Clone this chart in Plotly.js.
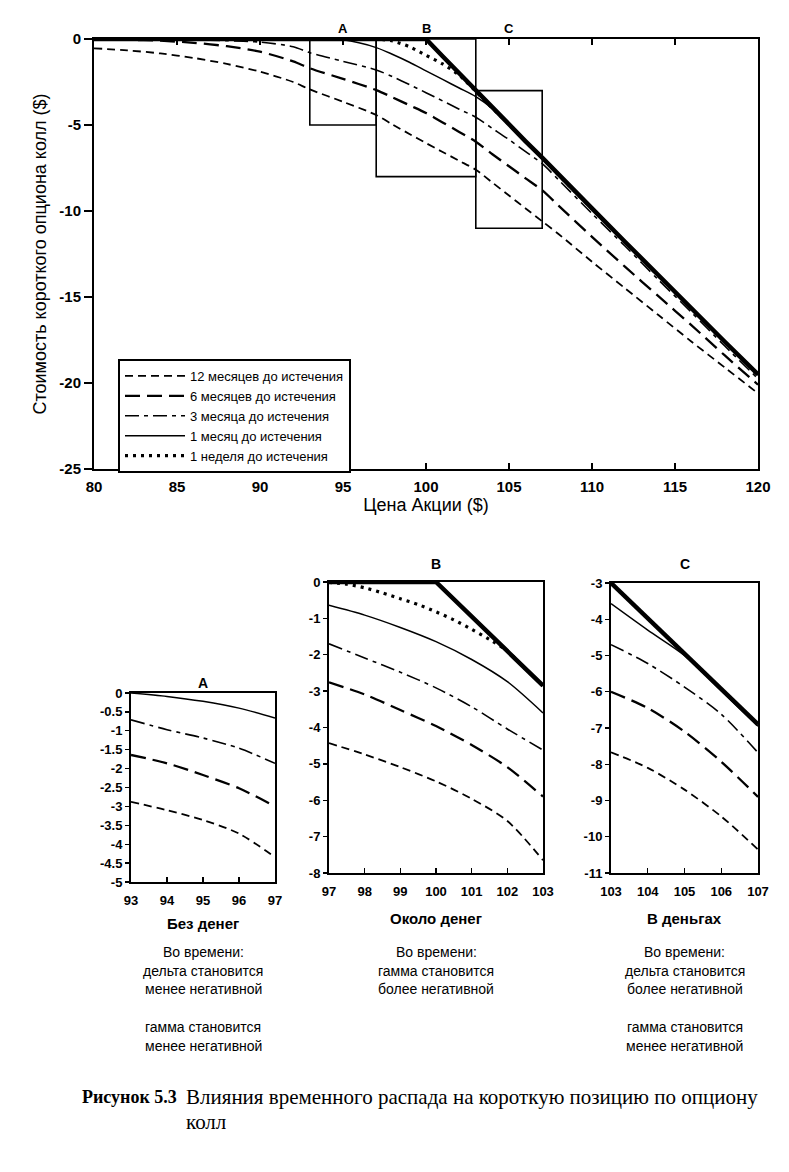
<!DOCTYPE html>
<html><head><meta charset="utf-8">
<script src="https://cdn.plot.ly/plotly-3.0.1.min.js"></script>
<style>html,body{margin:0;padding:0;background:#fff;}#chart{width:789px;height:1172px;}</style>
</head><body><div id="chart"></div>
<script>
// ---------------- DATA ----------------
const seriesNames = ['12 месяцев до истечения','6 месяцев до истечения','3 месяца до истечения','1 месяц до истечения','1 неделя до истечения'];

// main chart
const mainX       = [80,82,84,86,88,90,92,93,95,97,98,99,100,101,102,103,104,105,106,107,108,110,112,114,116,118,120];
const main12m     = [-0.54,-0.66,-0.84,-1.1,-1.45,-1.9,-2.5,-2.93,-3.65,-4.42,-4.98,-5.52,-6.05,-6.57,-7.08,-7.6,-8.35,-9.1,-9.85,-10.6,-11.35,-12.95,-14.5,-16.05,-17.6,-19.1,-20.6];
const main6m      = [-0.02,-0.05,-0.1,-0.22,-0.42,-0.74,-1.3,-1.7,-2.32,-2.97,-3.4,-3.85,-4.3,-4.85,-5.4,-5.97,-6.7,-7.4,-8.1,-8.8,-9.7,-11.5,-13.25,-14.95,-16.65,-18.4,-20.1];
const main3m      = [0,0,-0.02,-0.05,-0.1,-0.18,-0.45,-0.8,-1.3,-1.8,-2.2,-2.65,-3.12,-3.6,-4.08,-4.55,-5.2,-5.85,-6.55,-7.25,-8.2,-10.15,-12.05,-14.0,-15.9,-17.85,-19.75];
const main1m      = [0,0,0,0,0,0,0,0,-0.05,-0.5,-0.9,-1.35,-1.85,-2.35,-2.85,-3.35,-4.05,-4.97,-5.97,-6.93,-7.95,-9.9,-11.85,-13.8,-15.7,-17.65,-19.55];
const main1w      = [0,0,0,0,0,0,0,0,0,0,-0.12,-0.45,-0.95,-1.45,-2.1,-3.05,-4.02,-4.97,-5.97,-6.92,-7.92,-9.87,-11.82,-13.77,-15.67,-17.62,-19.52];
const mainIntr    = [0,0,0,0,0,0,0,0,0,0,0,0,0,-1.0,-2.0,-3.0,-4.0,-4.95,-5.95,-6.9,-7.9,-9.85,-11.8,-13.75,-15.65,-17.6,-19.5];

// panel A (out of the money)
const aX   = [93,94,95,96,97];
const a12m = [-2.88,-3.1,-3.36,-3.72,-4.34];
const a6m  = [-1.64,-1.86,-2.17,-2.52,-3.0];
const a3m  = [-0.71,-0.97,-1.19,-1.46,-1.86];
const a1m  = [0,-0.09,-0.22,-0.4,-0.66];

// panel B (at the money)
const bX     = [97,98,99,100,101,102,103];
const b12m   = [-4.43,-4.74,-5.09,-5.48,-5.96,-6.57,-7.65];
const b6m    = [-2.76,-3.09,-3.52,-3.96,-4.48,-5.09,-5.9];
const b3m    = [-1.7,-2.09,-2.48,-2.91,-3.43,-4.04,-4.62];
const b1m    = [-0.64,-0.91,-1.25,-1.64,-2.13,-2.74,-3.6];
const bWeekX = [97,97.5,98,98.5,99,99.5,100,100.5,101,101.5,102,102.5,103];
const b1w    = [-0.01,-0.06,-0.16,-0.3,-0.46,-0.62,-0.82,-1.04,-1.3,-1.58,-1.9,-2.38,-2.85];
const bIntrX = [97,100,103];
const bIntr  = [0,0,-2.85];

// panel C (in the money)
const cX    = [103,104,105,106,107];
const c12m  = [-7.67,-8.1,-8.7,-9.44,-10.35];
const c6m   = [-6.0,-6.45,-7.1,-7.93,-8.9];
const c3m   = [-4.7,-5.22,-5.87,-6.62,-7.68];
const c1m   = [-3.57,-4.3,-5.0,-5.97,-6.95];
const cIntr = [-3.0,-3.98,-4.95,-5.93,-6.9];

// zoom windows
const zoomX = [[93,97],[97,103],[103,107]];
const zoomY = [[-5,0],[-8,0],[-11,-3]];
const zoomLetters = ['A','B','C'];
const zoomLabels = ['Без денег','Около денег','В деньгах'];
const notes = [
  ['Во времени:','дельта становится','менее негативной','','гамма становится','менее негативной'],
  ['Во времени:','гамма становится','более негативной'],
  ['Во времени:','дельта становится','более негативной','','гамма становится','менее негативной']
];

// ticks
const mainTickX = [80,85,90,95,100,105,110,115,120];
const mainTickY = [0,-5,-10,-15,-20,-25];
const aTickX = [93,94,95,96,97];
const aTickY = [0,-0.5,-1,-1.5,-2,-2.5,-3,-3.5,-4,-4.5,-5];
const bTickX = [97,98,99,100,101,102,103];
const bTickY = [0,-1,-2,-3,-4,-5,-6,-7,-8];
const cTickX = [103,104,105,106,107];
const cTickY = [-3,-4,-5,-6,-7,-8,-9,-10,-11];

const xTitle = 'Цена Акции ($)';
const yTitle = 'Стоимость короткого опциона колл ($)';
const captionHead = 'Рисунок 5.3';
const captionLines = ['Влияния временного распада на короткую позицию по опциону','колл'];

// ---------------- STYLE / LAYOUT ----------------
const W = 789, H = 1172;
const px = v => v / W, py = v => 1 - v / H;
const FONT = 'Liberation Sans, Arial, Helvetica, sans-serif';
const SERIF = 'Liberation Serif, Times New Roman, serif';

const styles = {
  m12: {dash:'8px,5px', width:1.8},
  m6:  {dash:'15px,7px', width:2.3},
  m3:  {dash:'14px,5px,4px,5px', width:1.6},
  m1:  {dash:'solid', width:1.5},
  w1:  {dash:'3px,5px', width:3.2},
  intr:{dash:'solid', width:4.5}
};

const traces = [];
function add(x, y, key, ax, name, legend) {
  traces.push({
    type:'scatter', mode:'lines', x:x, y:y, name:name || key,
    xaxis:'x'+ax, yaxis:'y'+ax, showlegend:!!legend, hoverinfo:'skip',
    line:{color:'#000', width:styles[key].width, dash:styles[key].dash,
          shape: key==='intr' ? 'linear' : 'spline', smoothing:0.8}
  });
}
// main
add(mainX, main12m, 'm12', '', seriesNames[0], true);
add(mainX, main6m,  'm6',  '', seriesNames[1], true);
add(mainX, main3m,  'm3',  '', seriesNames[2], true);
add(mainX, main1m,  'm1',  '', seriesNames[3], true);
add(mainX, main1w,  'w1',  '', seriesNames[4], true);
add(mainX, mainIntr,'intr','');
// A
add(aX, a12m, 'm12', '2'); add(aX, a6m, 'm6', '2'); add(aX, a3m, 'm3', '2'); add(aX, a1m, 'm1', '2');
// B
add(bX, b12m, 'm12', '3'); add(bX, b6m, 'm6', '3'); add(bX, b3m, 'm3', '3'); add(bX, b1m, 'm1', '3');
add(bWeekX, b1w, 'w1', '3'); add(bIntrX, bIntr, 'intr', '3');
// C
add(cX, c12m, 'm12', '4'); add(cX, c6m, 'm6', '4'); add(cX, c3m, 'm3', '4'); add(cX, c1m, 'm1', '4');
add(cX, cIntr, 'intr', '4');

function xax(dom, range, ticks, size, anchor, mirror, standoff) {
  return {domain:dom, range:range, anchor:anchor, tickmode:'array', tickvals:ticks, ticktext:ticks.map(String),
    ticks:'inside', ticklen:5, tickwidth:1.3, tickcolor:'#000', showline:true, linecolor:'#000', linewidth:2,
    mirror:mirror, showgrid:false, zeroline:false, fixedrange:true, ticklabelstandoff:standoff,
    tickfont:{family:FONT, size:size, color:'#000', weight:'bold'}};
}
function yax(dom, range, ticks, size, anchor, len) {
  return {domain:dom, range:range, anchor:anchor, tickmode:'array', tickvals:ticks, ticktext:ticks.map(String),
    ticks:'outside', ticklen:len, tickwidth:1.3, tickcolor:'#000', showline:true, linecolor:'#000', linewidth:2,
    mirror:true, showgrid:false, zeroline:false, fixedrange:true,
    tickfont:{family:FONT, size:size, color:'#000', weight:'bold'}};
}

const dom = {
  main:{x:[px(94),px(758)], y:[py(469),py(39)]},
  A:{x:[px(131),px(275)], y:[py(882),py(693)]},
  B:{x:[px(329),px(543)], y:[py(873),py(582)]},
  C:{x:[px(611),px(758)], y:[py(873),py(583)]}
};
const panelKeys = ['A','B','C'];

const layout = {
  width:W, height:H, margin:{l:0,r:0,t:0,b:0}, paper_bgcolor:'#fff', plot_bgcolor:'#fff',
  showlegend:true,
  font:{family:FONT, color:'#000'},
  xaxis: Object.assign(xax(dom.main.x, [80,120], mainTickX, 15, 'y', 'ticks', 3),
           {title:{text:xTitle, font:{family:FONT, size:18, color:'#000'}, standoff:4}, ticklen:6}),
  yaxis: Object.assign(yax(dom.main.y, [-25,0], mainTickY, 15, 'x', 8),
           {title:{text:yTitle, font:{family:FONT, size:18, color:'#000'}, standoff:8}}),
  xaxis2: xax(dom.A.x, zoomX[0], aTickX, 13, 'y2', true, 5),
  yaxis2: yax(dom.A.y, zoomY[0], aTickY, 13, 'x2', 4),
  xaxis3: xax(dom.B.x, zoomX[1], bTickX, 13, 'y3', true, 5),
  yaxis3: yax(dom.B.y, zoomY[1], bTickY, 13, 'x3', 4),
  xaxis4: xax(dom.C.x, zoomX[2], cTickX, 13, 'y4', true, 5),
  yaxis4: yax(dom.C.y, zoomY[2], cTickY, 13, 'x4', 4),
  legend:{x:px(118), y:py(359), xanchor:'left', yanchor:'top', bgcolor:'#fff', bordercolor:'#000', borderwidth:2,
          font:{family:FONT, size:13, color:'#000'}, itemwidth:60, tracegroupgap:0, traceorder:'normal'},
  shapes:[], annotations:[]
};

// zoom boxes on main chart
zoomX.forEach((r,i) => {
  layout.shapes.push({type:'rect', xref:'x', yref:'y', x0:r[0], x1:r[1], y0:zoomY[i][0], y1:zoomY[i][1],
    line:{color:'#000', width:1.6}, fillcolor:'rgba(0,0,0,0)', layer:'above'});
  layout.annotations.push({xref:'x', yref:'paper', x:(r[0]+r[1])/2, y:py(29), text:zoomLetters[i],
    showarrow:false, font:{family:FONT, size:13, weight:'bold'}, xanchor:'center', yanchor:'middle'});
});

// panels: titles, labels, notes
const panelTitleY = [683, 564, 564];
const panelLabelY = [923, 918, 918];
panelKeys.forEach((k,i) => {
  const cx = (dom[k].x[0] + dom[k].x[1]) / 2;
  layout.annotations.push({xref:'paper', yref:'paper', x:cx, y:py(panelTitleY[i]), text:zoomLetters[i],
    showarrow:false, font:{family:FONT, size:14, weight:'bold'}, xanchor:'center', yanchor:'middle'});
  layout.annotations.push({xref:'paper', yref:'paper', x:cx, y:py(panelLabelY[i]), text:zoomLabels[i],
    showarrow:false, font:{family:FONT, size:15, weight:'bold'}, xanchor:'center', yanchor:'middle'});
  notes[i].forEach((line,j) => {
    if (!line) return;
    layout.annotations.push({xref:'paper', yref:'paper', x:cx, y:py(952 + j*18.7), text:line,
      showarrow:false, font:{family:FONT, size:14}, xanchor:'center', yanchor:'middle'});
  });
});

// caption
layout.annotations.push({xref:'paper', yref:'paper', x:px(80), y:py(1097), text:captionHead, xanchor:'left',
  yanchor:'middle', showarrow:false, font:{family:SERIF, size:18, weight:'bold'}});
captionLines.forEach((t,j) => {
  layout.annotations.push({xref:'paper', yref:'paper', x:px(184), y:py(1097 + j*25), text:t, xanchor:'left',
    yanchor:'middle', showarrow:false, font:{family:SERIF, size:21}});
});

Plotly.newPlot('chart', traces, layout, {staticPlot:true, displayModeBar:false});
</script></body></html>
